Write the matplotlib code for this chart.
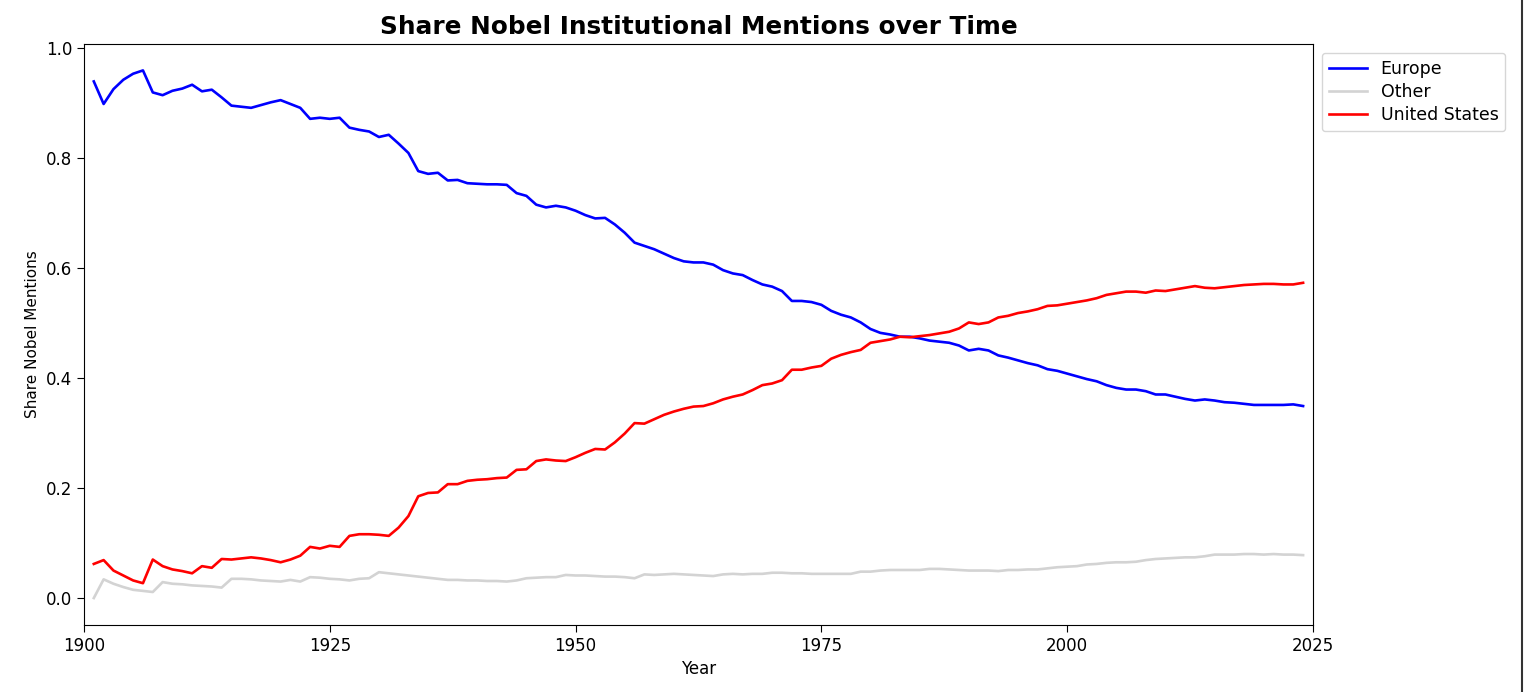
import numpy as np
import matplotlib
matplotlib.use('Agg')
import matplotlib.pyplot as plt
from matplotlib.lines import Line2D

# yearly share of Nobel institutional mentions
years = np.arange(1901, 2025)

europe = [
    0.939, 0.898, 0.925, 0.942, 0.953, 0.959, 0.919, 0.914, 0.922, 0.926,
    0.933, 0.921, 0.924, 0.910, 0.895, 0.893, 0.891, 0.896, 0.901, 0.905,
    0.898, 0.891, 0.871, 0.873, 0.871, 0.873, 0.855, 0.851, 0.848, 0.838,
    0.842, 0.826, 0.809, 0.776, 0.771, 0.773, 0.759, 0.760, 0.754, 0.753,
    0.752, 0.752, 0.751, 0.736, 0.731, 0.715, 0.710, 0.713, 0.710, 0.704,
    0.696, 0.690, 0.691, 0.679, 0.664, 0.646, 0.640, 0.634, 0.626, 0.618,
    0.612, 0.610, 0.610, 0.606, 0.596, 0.590, 0.587, 0.578, 0.570, 0.566,
    0.558, 0.540, 0.540, 0.538, 0.533, 0.522, 0.515, 0.510, 0.501, 0.489,
    0.482, 0.479, 0.475, 0.475, 0.472, 0.468, 0.466, 0.464, 0.459, 0.450,
    0.453, 0.450, 0.441, 0.437, 0.432, 0.427, 0.423, 0.416, 0.413, 0.408,
    0.403, 0.398, 0.394, 0.387, 0.382, 0.379, 0.379, 0.376, 0.370, 0.370,
    0.366, 0.362, 0.359, 0.361, 0.359, 0.356, 0.355, 0.353, 0.351, 0.351,
    0.351, 0.351, 0.352, 0.349,
]

other = [
    0.000, 0.034, 0.026, 0.020, 0.015, 0.013, 0.011, 0.029, 0.026, 0.025,
    0.023, 0.022, 0.021, 0.019, 0.035, 0.035, 0.034, 0.032, 0.031, 0.030,
    0.033, 0.030, 0.038, 0.037, 0.035, 0.034, 0.032, 0.035, 0.036, 0.047,
    0.045, 0.043, 0.041, 0.039, 0.037, 0.035, 0.033, 0.033, 0.032, 0.032,
    0.031, 0.031, 0.030, 0.032, 0.036, 0.037, 0.038, 0.038, 0.042, 0.041,
    0.041, 0.040, 0.039, 0.039, 0.038, 0.036, 0.043, 0.042, 0.043, 0.044,
    0.043, 0.042, 0.041, 0.040, 0.043, 0.044, 0.043, 0.044, 0.044, 0.046,
    0.046, 0.045, 0.045, 0.044, 0.044, 0.044, 0.044, 0.044, 0.048, 0.048,
    0.050, 0.051, 0.051, 0.051, 0.051, 0.053, 0.053, 0.052, 0.051, 0.050,
    0.050, 0.050, 0.049, 0.051, 0.051, 0.052, 0.052, 0.054, 0.056, 0.057,
    0.058, 0.061, 0.062, 0.064, 0.065, 0.065, 0.066, 0.069, 0.071, 0.072,
    0.073, 0.074, 0.074, 0.076, 0.079, 0.079, 0.079, 0.080, 0.080, 0.079,
    0.080, 0.079, 0.079, 0.078,
]

united_states = [
    0.062, 0.069, 0.050, 0.041, 0.032, 0.027, 0.070, 0.058, 0.052, 0.049,
    0.045, 0.058, 0.055, 0.071, 0.070, 0.072, 0.074, 0.072, 0.069, 0.065,
    0.070, 0.077, 0.093, 0.090, 0.095, 0.093, 0.113, 0.116, 0.116, 0.115,
    0.113, 0.128, 0.149, 0.185, 0.191, 0.192, 0.207, 0.207, 0.213, 0.215,
    0.216, 0.218, 0.219, 0.233, 0.234, 0.249, 0.252, 0.250, 0.249, 0.256,
    0.264, 0.271, 0.270, 0.283, 0.299, 0.318, 0.317, 0.325, 0.333, 0.339,
    0.344, 0.348, 0.349, 0.354, 0.361, 0.366, 0.370, 0.378, 0.387, 0.390,
    0.396, 0.415, 0.415, 0.419, 0.422, 0.435, 0.442, 0.447, 0.451, 0.464,
    0.467, 0.470, 0.475, 0.474, 0.476, 0.478, 0.481, 0.484, 0.490, 0.501,
    0.498, 0.501, 0.510, 0.513, 0.518, 0.521, 0.525, 0.531, 0.532, 0.535,
    0.538, 0.541, 0.545, 0.551, 0.554, 0.557, 0.557, 0.555, 0.559, 0.558,
    0.561, 0.564, 0.567, 0.564, 0.563, 0.565, 0.567, 0.569, 0.570, 0.571,
    0.571, 0.570, 0.570, 0.573,
]

regions = ['Europe', 'Other', 'United States']
colors = ['blue', 'lightgray', 'red']

fig = plt.figure(figsize=(15.24, 6.92), dpi=100)
ax = fig.add_axes([0.0551, 0.0968, 0.8064, 0.8396])

for name, vals, c in zip(regions, [europe, other, united_states], colors):
    ax.plot(years, vals, color=c, lw=1.9, label=name)

ax.set_xlim(1900, 2025)
ax.set_ylim(-0.049, 1.007)
ax.set_xticks([1900, 1925, 1950, 1975, 2000, 2025])
ax.set_yticks([0.0, 0.2, 0.4, 0.6, 0.8, 1.0])
ax.tick_params(labelsize=12, length=5)

ax.set_title('Share Nobel Institutional Mentions over Time', fontsize=17.8, fontweight='bold', pad=7)
ax.set_xlabel('Year', fontsize=12)
ax.set_ylabel('Share Nobel Mentions', fontsize=11)
ax.legend(loc='upper left', bbox_to_anchor=(1.0, 1.0), fontsize=12.5,
          labelspacing=0.3, handlelength=2.2)

# dark edge on the right of the screenshot
fig.add_artist(Line2D([0.9990, 0.9990], [0, 1], transform=fig.transFigure, color='#333333', lw=1.5))

fig.savefig('out.png', dpi=100)
